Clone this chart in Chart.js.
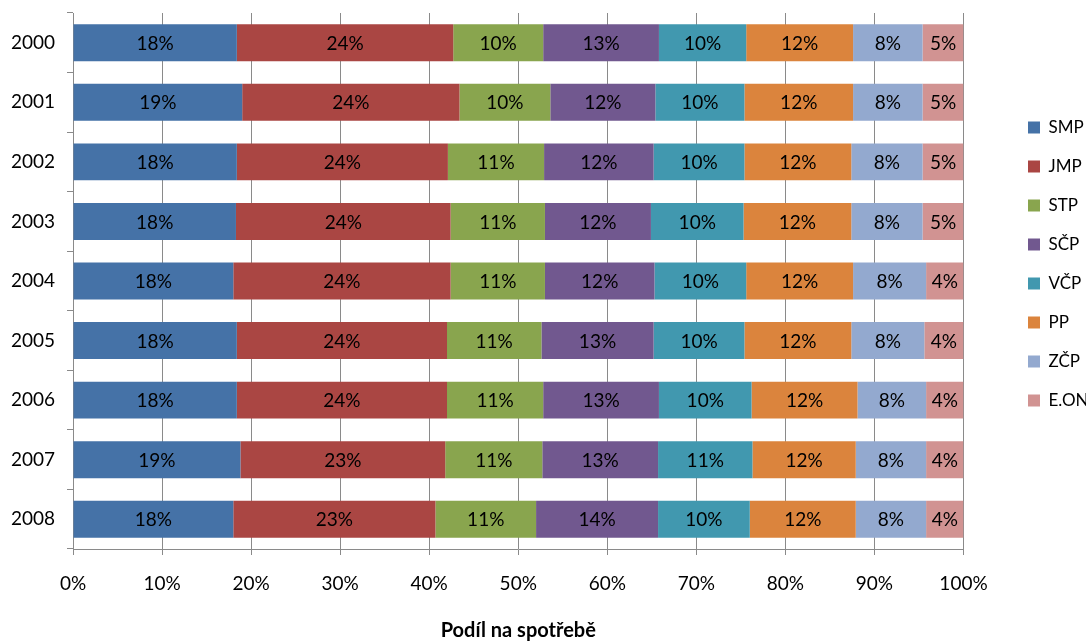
<!DOCTYPE html>
<html>
<head>
<meta charset="utf-8">
<title>Podíl na spotřebě</title>
<script src="https://cdn.jsdelivr.net/npm/chart.js@4/dist/chart.umd.min.js"></script>
<style>
  html, body { margin: 0; padding: 0; background: #fff; }
</style>
</head>
<body>
<canvas id="share-chart" width="1090" height="643"></canvas>
<script>
// years on the category axis, top to bottom
var years = ['2000', '2001', '2002', '2003', '2004', '2005', '2006', '2007', '2008'];

// share of consumption per distributor, % of the year total
var smp = [18.4, 19.0, 18.4, 18.3, 18.0, 18.4, 18.4, 18.8, 18.0];
var jmp = [24.3, 24.4, 23.7, 24.1, 24.4, 23.6, 23.6, 23.0, 22.7];
var stp = [10.1, 10.2, 10.8, 10.6, 10.6, 10.6, 10.8, 10.9, 11.3];
var scp = [13.0, 11.8, 12.3, 11.9, 12.3, 12.6, 13.0, 13.0, 13.7];
var vcp = [9.8, 10.0, 10.2, 10.4, 10.3, 10.2, 10.4, 10.6, 10.3];
var pp  = [12.0, 12.2, 12.0, 12.1, 12.0, 12.0, 11.9, 11.6, 11.9];
var zcp = [7.8, 7.8, 8.0, 8.0, 8.2, 8.2, 7.7, 7.9, 7.9];
var eon = [4.6, 4.6, 4.6, 4.6, 4.2, 4.4, 4.2, 4.2, 4.2];

var seriesNames = ['SMP', 'JMP', 'STP', 'SČP', 'VČP', 'PP', 'ZČP', 'E.ON'];
var seriesValues = [smp, jmp, stp, scp, vcp, pp, zcp, eon];
var seriesColors = ['#4572A7', '#AA4643', '#89A54E', '#71588F', '#4198AF', '#DB843D', '#93A9CF', '#D19392'];

// x axis tick labels, 0 % .. 100 %
var xTicks = [0, 10, 20, 30, 40, 50, 60, 70, 80, 90, 100];

var gridGrey = '#8a8a8a';
var fontStack = 'Lato, "Open Sans", sans-serif';

Chart.defaults.font.family = fontStack;
Chart.defaults.font.size = 19;
Chart.defaults.color = '#000';

// percent labels in the middle of each segment
var segmentLabels = {
  id: 'segmentLabels',
  afterDatasetsDraw: function(chart) {
    var ctx = chart.ctx;
    ctx.save();
    ctx.font = '19px ' + fontStack;
    ctx.fillStyle = '#000';
    ctx.textAlign = 'center';
    ctx.textBaseline = 'middle';
    chart.data.datasets.forEach(function(ds, i) {
      var meta = chart.getDatasetMeta(i);
      meta.data.forEach(function(bar, j) {
        var p = bar.getCenterPoint();
        ctx.fillText(Math.round(ds.data[j]) + '%', p.x, p.y + 1);
      });
    });
    ctx.restore();
  }
};

// legend column sits well right of the plot, swatches at x = 1028
var legendOffset = {
  id: 'legendOffset',
  afterLayout: function(chart) {
    var lg = chart.legend;
    var pad = lg.options.labels.padding;
    var dx = 1028 - (lg.left + pad);
    lg.left += dx;
    lg.right += dx;
    lg.top -= 17;
    lg.bottom -= 17;
  }
};

var datasets = seriesNames.map(function(name, i) {
  return {
    label: name,
    data: seriesValues[i],
    backgroundColor: seriesColors[i],
    borderWidth: 0,
    barPercentage: 0.62,
    categoryPercentage: 1.0
  };
});

var ctx = document.getElementById('share-chart');
window.shareChart = new Chart(ctx, {
  type: 'bar',
  data: {
    labels: years,
    datasets: datasets
  },
  options: {
    indexAxis: 'y',
    responsive: false,
    animation: false,
    layout: {
      padding: { top: 13, right: 46.5, bottom: 0, left: 0 }
    },
    plugins: {
      legend: {
        position: 'right',
        fullSize: false,
        maxWidth: 80,
        labels: {
          boxWidth: 12,
          boxHeight: 12,
          padding: 22,
          font: { size: 17 }
        }
      },
      tooltip: { enabled: false }
    },
    scales: {
      x: {
        stacked: true,
        min: 0,
        max: 100,
        afterBuildTicks: function(scale) {
          scale.ticks = xTicks.map(function(v) { return { value: v }; });
        },
        afterFit: function(scale) { scale.height = 94; },
        ticks: {
          padding: 17,
          callback: function(v) { return v + '%'; }
        },
        grid: {
          color: gridGrey,
          tickLength: 6,
          drawOnChartArea: true
        },
        border: { color: gridGrey },
        title: {
          display: true,
          text: 'Podíl na spotřebě',
          font: { size: 20, weight: 'bold' },
          padding: { top: 4, bottom: 0 }
        }
      },
      y: {
        stacked: true,
        afterFit: function(scale) {
          scale.width = 73;
          scale.paddingTop = 0;
          scale.paddingBottom = 0;
        },
        ticks: { padding: 12 },
        grid: {
          offset: true,
          drawOnChartArea: false,
          color: gridGrey,
          tickLength: 6
        },
        border: { color: gridGrey }
      }
    }
  },
  plugins: [segmentLabels, legendOffset]
});
</script>
</body>
</html>
